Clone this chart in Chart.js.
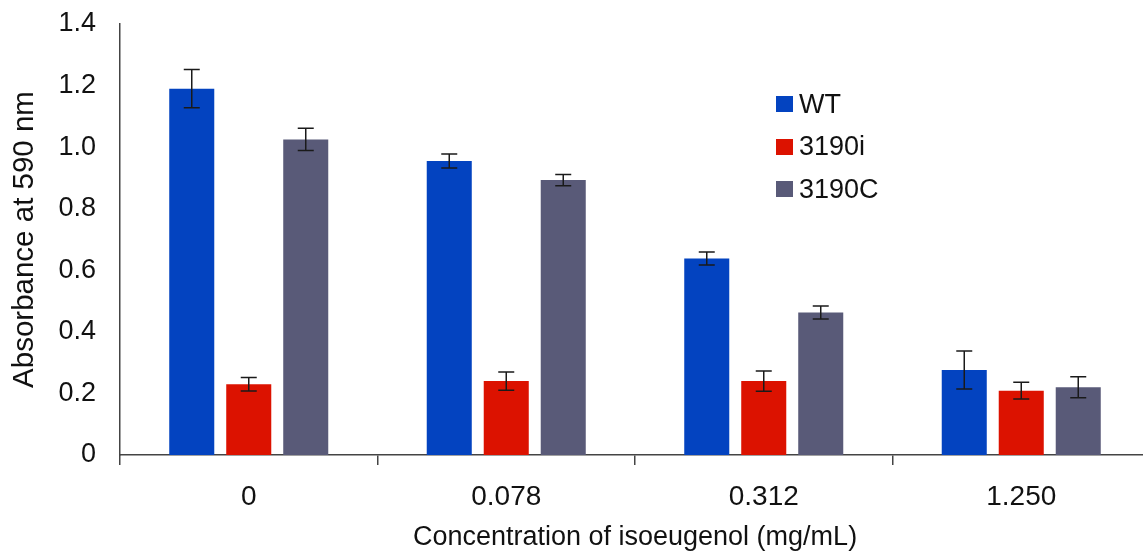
<!DOCTYPE html>
<html>
<head>
<meta charset="utf-8">
<script src="https://cdn.jsdelivr.net/npm/chart.js@4.4.1/dist/chart.umd.min.js"></script>
<style>
    html, body { margin: 0; padding: 0; background: #fff; overflow: hidden; }
    .chart-wrap { position: relative; width: 1152px; height: 556px; }
    .legend { position: absolute; left: 776px; top: 83px; font-family: "Liberation Sans", Arial, sans-serif; font-size: 27px; color: #111; }
    .legend-row { display: flex; align-items: center; height: 42.5px; }
    .legend-box { width: 17px; height: 16px; margin-right: 6px; }
</style>
</head>
<body>
<div class="chart-wrap">
    <canvas id="absChart"></canvas>
    <div class="legend" id="legend"></div>
</div>
<script>
// ── Data ─────────────────────────────────────────────────────────────
const categories = ['0', '0.078', '0.312', '1.250'];
const seriesNames = ['WT', '3190i', '3190C'];

const wtValues = [1.19, 0.955, 0.638, 0.276];
const wtErrors = [0.062, 0.023, 0.021, 0.062];

const iValues = [0.23, 0.24, 0.24, 0.209];
const iErrors = [0.022, 0.03, 0.033, 0.027];

const cValues = [1.025, 0.893, 0.463, 0.22];
const cErrors = [0.036, 0.018, 0.021, 0.034];

const yTicks = [0, 0.2, 0.4, 0.6, 0.8, 1.0, 1.2, 1.4];

const colors = ['#0343c0', '#dc1200', '#595a78'];
const FONT = '"Liberation Sans", Arial, sans-serif';

// ── Error bars (drawn through the y scale) ───────────────────────────
const errorBars = {
    id: 'errorBars',
    afterDatasetsDraw(chart) {
        const { ctx, scales: { y } } = chart;
        ctx.save();
        ctx.strokeStyle = '#1a1a1a';
        ctx.lineWidth = 1.5;
        chart.data.datasets.forEach((ds, i) => {
            const meta = chart.getDatasetMeta(i);
            meta.data.forEach((bar, j) => {
                const v = ds.data[j];
                const e = ds.errors[j];
                const top = y.getPixelForValue(v + e);
                const bot = y.getPixelForValue(v - e);
                const half = 8;
                ctx.beginPath();
                ctx.moveTo(bar.x, top);
                ctx.lineTo(bar.x, bot);
                ctx.moveTo(bar.x - half, top);
                ctx.lineTo(bar.x + half, top);
                ctx.moveTo(bar.x - half, bot);
                ctx.lineTo(bar.x + half, bot);
                ctx.stroke();
            });
        });
        ctx.restore();
    }
};

// ── Chart ────────────────────────────────────────────────────────────
const seriesValues = [wtValues, iValues, cValues];
const seriesErrors = [wtErrors, iErrors, cErrors];

const ctx = document.getElementById('absChart').getContext('2d');
const chart = new Chart(ctx, {
    type: 'bar',
    data: {
        labels: categories,
        datasets: seriesNames.map((name, i) => ({
            label: name,
            data: seriesValues[i],
            errors: seriesErrors[i],
            backgroundColor: colors[i],
            borderWidth: 0,
            categoryPercentage: 0.664,
            barPercentage: 0.79
        }))
    },
    options: {
        responsive: true,
        maintainAspectRatio: false,
        animation: false,
        layout: { padding: { top: 24, right: 2, left: 0, bottom: 0 } },
        plugins: {
            legend: { display: false },
            tooltip: { enabled: false }
        },
        scales: {
            x: {
                offset: true,
                grid: { offset: true, drawOnChartArea: false, drawTicks: true, tickLength: 10, color: '#444', lineWidth: 1.5 },
                border: { display: true, color: '#444', width: 1.5 },
                ticks: { color: '#111', padding: 15, font: { family: FONT, size: 28 } },
                title: { display: true, text: 'Concentration of isoeugenol (mg/mL)', color: '#111', padding: { top: 0, bottom: 2 }, font: { family: FONT, size: 27 } },
                afterFit: s => { s.height = 101; s.paddingLeft = 0; s.paddingRight = 0; }
            },
            y: {
                min: 0,
                max: 1.4,
                afterBuildTicks: s => { s.ticks = yTicks.map(v => ({ value: v })); },
                grid: { display: false, drawTicks: false },
                border: { display: true, color: '#444', width: 1.5 },
                ticks: {
                    color: '#111',
                    padding: 24,
                    font: { family: FONT, size: 27 },
                    callback: v => v === 0 ? '0' : v.toFixed(1)
                },
                title: { display: true, text: 'Absorbance at 590 nm', color: '#111', padding: { top: 7, bottom: 0 }, font: { family: FONT, size: 29.5 } },
                afterFit: s => { s.width = 120; s.paddingTop = 0; s.paddingBottom = 0; }
            }
        }
    },
    plugins: [errorBars]
});

// ── Legend ───────────────────────────────────────────────────────────
document.getElementById('legend').innerHTML = seriesNames.map((name, i) => `
    <div class="legend-row">
        <span class="legend-box" style="background:${colors[i]}"></span><span>${name}</span>
    </div>`).join('');
</script>
</body>
</html>
